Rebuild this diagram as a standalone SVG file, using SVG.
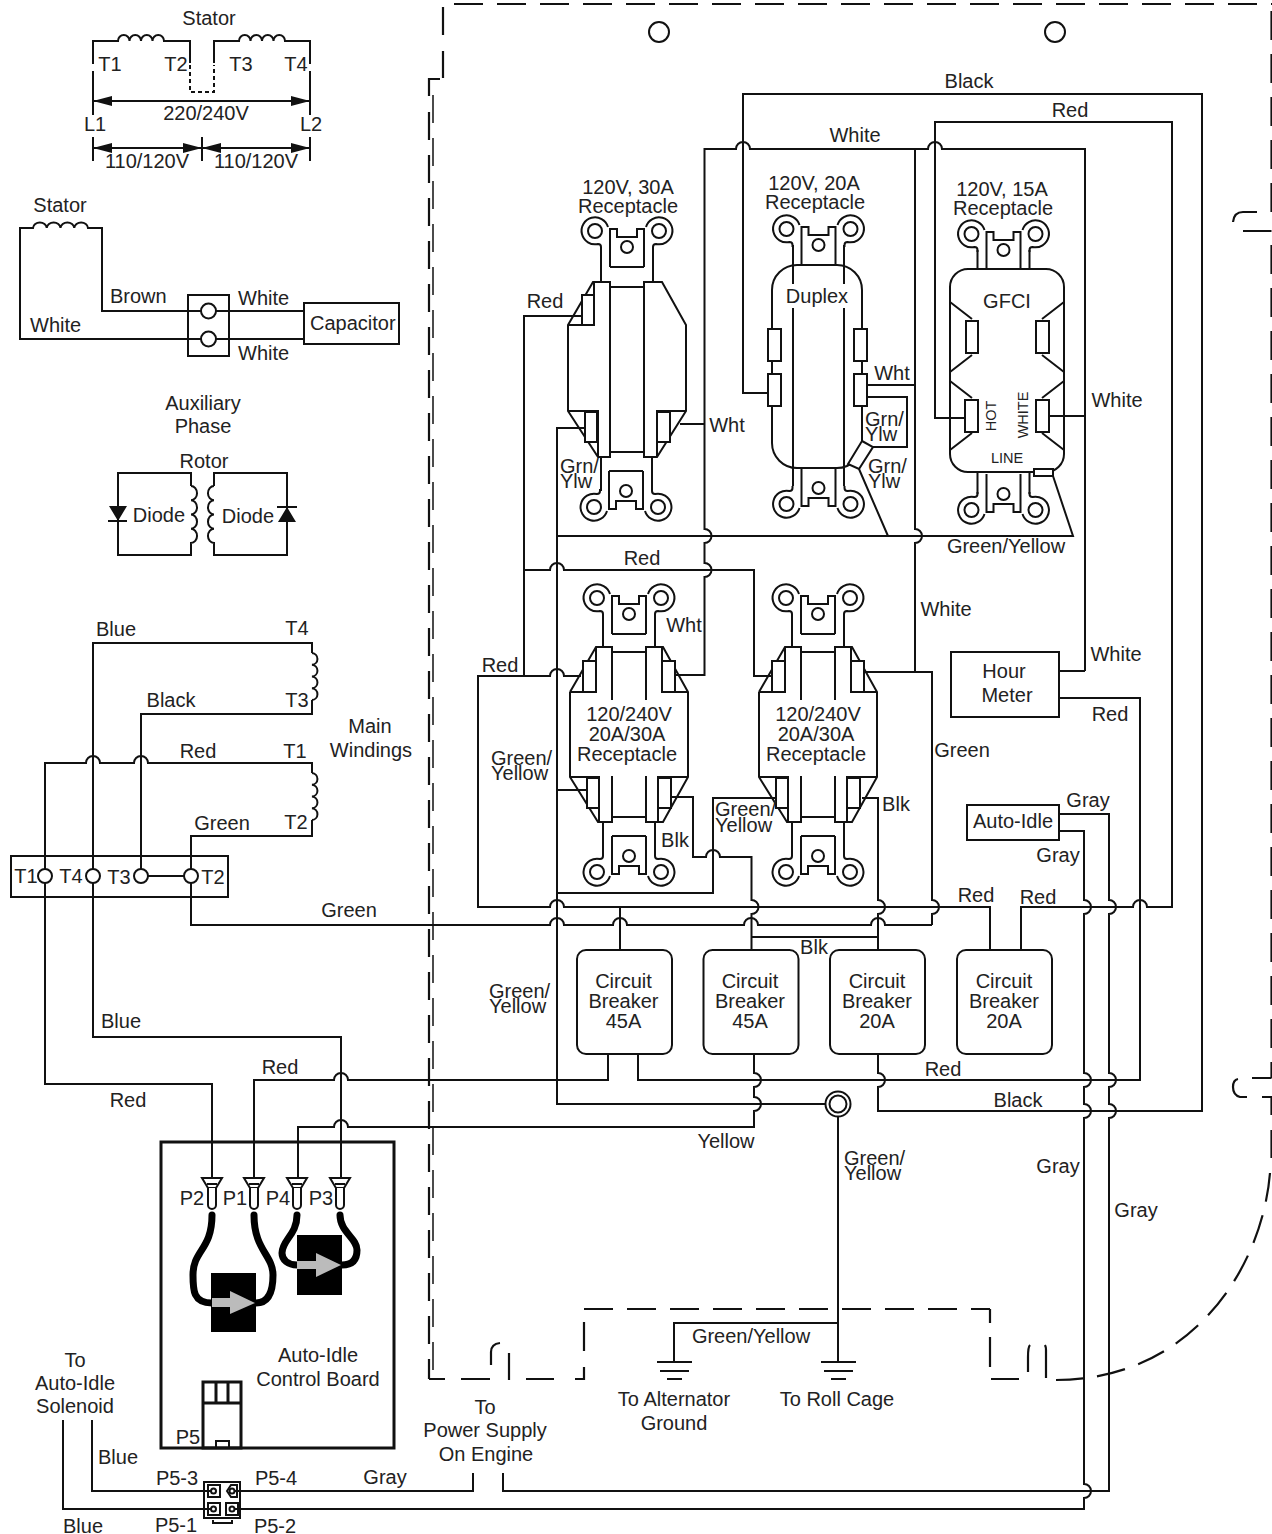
<svg xmlns="http://www.w3.org/2000/svg" xmlns:xlink="http://www.w3.org/1999/xlink" width="1272" height="1534" viewBox="0 0 1272 1534">
<style>
text{font-family:"Liberation Sans",Arial,sans-serif;font-size:20px;fill:#222}
.m{text-anchor:middle}
.s{font-size:14.5px}
.w{fill:none;stroke:#111;stroke-width:2;stroke-linejoin:miter}
.n{fill:none;stroke:#111;stroke-width:2}
.f{fill:#fff;stroke:#111;stroke-width:2}
.d{fill:none;stroke:#111;stroke-width:2.2}
.dd{stroke-dasharray:29 14}
.k{fill:#111;stroke:none}
.h{fill:none;stroke:#000;stroke-width:7;stroke-linecap:round}
.b{fill:#000}
.g{fill:#bbb}
</style>
<defs>
<g id="ear">
<circle class="n" cx="-32" cy="0" r="7"/><circle class="n" cx="32" cy="0" r="7"/>
<circle class="n" cx="0" cy="16" r="6"/>
<path class="n" d="M-17,36 V-2 H-10 V6 H10 V-2 H17 V36"/>
<path class="n" d="M-26,18 V16 Q-26,13 -29,13 A13.5,13.5 0 1 1 -19,-4"/>
<path class="n" d="M26,18 V16 Q26,13 29,13 A13.5,13.5 0 1 0 19,-4"/>
</g>
<g id="pin">
<path class="f" d="M-10,0 H10 L4,10 H-4Z"/>
<path class="f" d="M-4,10 V27 a4,4 0 0 0 8,0 V10"/>
<path class="n" d="M-5,6 H5"/>
</g>
<g id="recp">
<path class="n" d="M-59,44 L-33,-1 H-17 V52 M17,52 V-1 H34 L59,44 V129 L34,174 H17 V128 M-17,128 V174 H-31 L-59,129 V44 M-17,4 H17 M-17,169 H17 M-59,44 H-33 V-1 M33,-1 V44 H59 M-59,129 H-30 V174 M29,174 V129 H59"/>
<rect class="f" x="-46" y="13" width="13" height="31"/><rect class="f" x="33" y="13" width="13" height="31"/>
<rect class="f" x="-42" y="130" width="12" height="30"/><rect class="f" x="29" y="130" width="13" height="30"/>
</g>
<g id="breaker"><rect class="f" x="0" y="0" width="95" height="104" rx="9"/></g>
</defs>

<g id="enclosure">
<path class="d dd" d="M454,4 H1272"/>
<path class="d" d="M443,7 V35 M443,51 V78 M440,79 H429 V96"/>
<path class="d" stroke-dasharray="28 15" d="M429,112 V1379"/>
<path fill="none" stroke="#111" stroke-width="1.5" stroke-dasharray="28 15" d="M433,95 V1379"/>
<path class="d" d="M429,1379 H445 M461,1379 H490 M491,1365 V1352 Q491,1344 500,1343 M509,1353 V1380 M526,1379 H554 M575,1379 H584 V1367 M584,1351 V1322"/>
<path class="d dd" d="M584,1309 H990"/>
<path class="d" d="M990,1309 V1323 M990,1337 V1367 M991,1379 H1019 M1028,1372 V1357 Q1028,1347 1030,1345 M1046,1378 V1350 Q1046,1347 1045,1345"/>
<path class="d dd" d="M1271.5,212 V4"/>
<path class="d" d="M1257,212 H1243 Q1234,212 1233,222 M1243,231 H1271.5"/>
<path class="d dd" d="M1271.5,245 V1078"/>
<path class="d" d="M1252,1078 H1271.5 M1247,1097 H1240 Q1233,1095 1233,1087 Q1233,1080 1238,1079 M1262,1097 H1271.5 V1115 M1271.5,1130 V1158"/>
<path class="d dd" d="M1270,1173 C1262,1270 1190,1380 1056,1380"/>
<circle class="n" cx="659" cy="32" r="10"/><circle class="n" cx="1055" cy="32" r="10"/>
</g>

<g id="stator-top">
<text class="m" x="209" y="25">Stator</text>
<path class="n" d="M93,64 V41 H118 a5.75,6 0 0 1 11.5,0 a5.75,6 0 0 1 11.5,0 a5.75,6 0 0 1 11.5,0 a5.75,6 0 0 1 11.5,0 H190 V63"/>
<path class="n" d="M93,71 V115 M310,64 V41 H285 a5.75,6 0 0 0 -11.5,0 a5.75,6 0 0 0 -11.5,0 a5.75,6 0 0 0 -11.5,0 a5.75,6 0 0 0 -11.5,0 H214 V63 M310,71 V115"/>
<path class="n" stroke-dasharray="4 3" d="M190,65 V92 H214 V65"/>
<path class="n" d="M93,101 H310"/>
<path class="k" d="M93,101 L112,96 V106Z M310,101 L291,96 V106Z"/>
<path class="n" d="M93,137 V161 M202,137 V161 M310,137 V161 M93,148 H310"/>
<path class="k" d="M93,148 L112,143 V153Z M202,148 L183,143 V153Z M202,148 L221,143 V153Z M310,148 L291,143 V153Z"/>
<text class="m" x="110" y="71">T1</text><text class="m" x="176" y="71">T2</text><text class="m" x="241" y="71">T3</text><text class="m" x="296" y="71">T4</text>
<text class="m" x="206" y="120">220/240V</text><text class="m" x="95" y="131">L1</text><text class="m" x="311" y="131">L2</text>
<text class="m" x="147" y="168">110/120V</text><text class="m" x="256" y="168">110/120V</text>
</g>

<g id="stator-aux">
<text class="m" x="60" y="212">Stator</text>
<path class="n" d="M188,339 H20 V228 H33 a6.9,6 0 0 1 13.75,0 a6.9,6 0 0 1 13.75,0 a6.9,6 0 0 1 13.75,0 a6.9,6 0 0 1 13.75,0 H102 V311 H188"/>
<path class="n" d="M229,311 H304 M229,339 H304"/>
<rect class="n" x="188" y="295" width="41" height="61"/>
<circle class="f" cx="208.500" cy="311" r="7.500"/><circle class="f" cx="208.500" cy="339" r="7.500"/>
<path class="n" d="M188,311 H201 M216,311 H229 M188,339 H201 M216,339 H229"/>
<rect class="n" x="304" y="303" width="95" height="41"/>
<text x="110" y="303">Brown</text><text x="30" y="332">White</text><text x="238" y="305">White</text><text x="238" y="360">White</text><text x="310" y="330">Capacitor</text>
</g>

<g id="rotor">
<text class="m" x="203" y="410">Auxiliary</text><text class="m" x="203" y="433">Phase</text><text class="m" x="204" y="468">Rotor</text>
<path class="n" d="M191,486 V473 H118 V555 H191 V543 a6,7.1 0 0 0 0,-14.250 a6,7.1 0 0 0 0,-14.250 a6,7.1 0 0 0 0,-14.250 a6,7.1 0 0 0 0,-14.250"/>
<path class="n" d="M214,486 V473 H287 V555 H214 V543 a6,7.1 0 0 1 0,-14.250 a6,7.1 0 0 1 0,-14.250 a6,7.1 0 0 1 0,-14.250 a6,7.1 0 0 1 0,-14.250"/>
<path class="k" d="M109,506 H127 L118,521Z M278,522 H296 L287,507Z"/>
<path class="n" d="M108,521 H127 M277,507 H297"/>
<text class="m" x="159" y="522">Diode</text><text class="m" x="248" y="523">Diode</text>
</g>

<g id="connectors">
<path class="w" d="M312,653 V643 H93 V1037 H341 V1178"/>
<path class="w" d="M312,700 V714 H141 V876"/>
<path class="w" d="M212,1178 V1084 H45 V763 H86 a7,7 0 0 1 14,0 H134 a7,7 0 0 1 14,0 H312 V773"/>
<path class="w" d="M312,820 V836 H191 V876 M141,876 H191"/>
<path class="w" d="M191,876 V925 H550 a7,7 0 0 1 14,0 H613 a7,7 0 0 1 14,0 H744 a7,7 0 0 1 14,0 H871 a7,7 0 0 1 14,0 H932"/>
<path class="w" d="M878,1054 V1073 a7,7 0 0 1 0,14 V1111 H1202 V94 H743 V393 H768"/>
<path class="w" d="M1021,950 V907 H1133 a7,7 0 0 1 14,0 H1172 V122 H935 V418 H965"/>
<path class="w" d="M1085,671 V149 H942 a7,7 0 0 0 -14,0 H750 a7,7 0 0 0 -14,0 H704.500 V529 a7,7 0 0 1 0,14 V563 a7,7 0 0 1 0,14 V675 H676"/>
<path class="w" d="M680,424 H704.500 M867,385 H915 M1049,416 H1085 M1059,671 H1085"/>
<path class="w" d="M915,149 V529 a7,7 0 0 1 0,14 V672"/>
<path class="w" d="M865,672 H932 V900 a7,7 0 0 1 0,14 V925"/>
<path class="w" d="M557,536 H1073 L1053,476 M859,469 L888,536"/>
<path class="w" d="M585,428 H557 V1104 H826"/>
<path class="w" d="M557,790 H587 M557,893 H713 V798 H776"/>
<path class="w" d="M582,316 H524 V676 M524,570 H550 a7,7 0 0 1 14,0 H754 V676 H772"/>
<path class="w" d="M581,676 H564 a7,7 0 0 0 -14,0 H478 V907 H550 a7,7 0 0 1 14,0 H990 V950 M620,907 V950"/>
<path class="w" d="M672,797 H693 V857 H706 a7,7 0 0 1 14,0 H751.500 V900 a7,7 0 0 1 0,14 V950 M751.500,937 H878 M862,798 H878 V900 a7,7 0 0 1 0,14 V950"/>
<path class="w" d="M608,1054 V1080 H348 a7,7 0 0 0 -14,0 H254 V1178"/>
<path class="w" d="M638,1054 V1080 H1140 V698 H1059"/>
<path class="w" d="M754,1054 V1073 a7,7 0 0 1 0,14 V1097 a7,7 0 0 1 0,14 V1127 H348 a7,7 0 0 0 -14,0 H298 V1178"/>
<path class="w" d="M1059,831 H1084 V900 a7,7 0 0 1 0,14 V1073 a7,7 0 0 1 0,14 V1104 a7,7 0 0 1 0,14 V1484 a7,7 0 0 1 0,14 V1509 H63 V1420"/>
<path class="w" d="M1059,814 H1109 V900 a7,7 0 0 1 0,14 V1073 a7,7 0 0 1 0,14 V1104 a7,7 0 0 1 0,14 V1491 H503 V1473"/>
<path class="w" d="M473,1473 V1491 H92 V1420"/>
<path class="w" d="M838,1117 V1362 M838,1323 H674 V1362"/>
</g>

<g id="main-windings">
<path class="n" d="M312,653 a6,5.9 0 0 1 0,11.750 a6,5.9 0 0 1 0,11.750 a6,5.9 0 0 1 0,11.750 a6,5.9 0 0 1 0,11.750"/>
<path class="n" d="M312,773 a6,5.9 0 0 1 0,11.750 a6,5.9 0 0 1 0,11.750 a6,5.9 0 0 1 0,11.750 a6,5.9 0 0 1 0,11.750"/>
<rect class="n" x="11" y="856" width="217" height="41"/>
<circle class="f" cx="45" cy="876" r="7"/><circle class="f" cx="93" cy="876" r="7"/><circle class="f" cx="141" cy="876" r="7"/><circle class="f" cx="191" cy="876" r="7"/>
<text class="m" x="116" y="636">Blue</text><text class="m" x="297" y="635">T4</text><text class="m" x="171" y="707">Black</text><text class="m" x="297" y="707">T3</text>
<text class="m" x="198" y="758">Red</text><text class="m" x="295" y="758">T1</text><text class="m" x="222" y="830">Green</text><text class="m" x="296" y="829">T2</text>
<text class="m" x="370" y="733">Main</text><text class="m" x="371" y="757">Windings</text>
<text class="m" x="26" y="883">T1</text><text class="m" x="71" y="883">T4</text><text class="m" x="119" y="884">T3</text><text class="m" x="213" y="884">T2</text>
<text class="m" x="349" y="917">Green</text>
</g>

<g id="receptacle-30a">
<use href="#ear" transform="translate(627,231)"/>
<use href="#ear" transform="translate(626,507) scale(1,-1)"/>
<path class="n" d="M601,247 V281 M653,247 V281 M601,457 V491 M652,457 V491 M610,267 H644 M609,471 H643"/>
<path class="n" d="M568,325 L593,282 H610 V457 H598 L568,411 Z M644,281 V457 H657 L686,411 V325 L662,282 H644 M610,287 H644 M610,452 H644 M568,411 H598 V457 M657,457 V411 H686 M568,325 H594 V282"/>
<rect class="f" x="582" y="295" width="12" height="30"/>
<rect class="f" x="585" y="412" width="12" height="30"/><rect class="f" x="657" y="412" width="13" height="30"/>
<text class="m" x="628" y="194">120V, 30A</text><text class="m" x="628" y="213">Receptacle</text>
</g>

<g id="receptacle-duplex">
<use href="#ear" transform="translate(818.500,229)"/>
<use href="#ear" transform="translate(818.500,504) scale(1,-1)"/>
<path class="n" d="M793,245 V284 M793,308 V486 M844,245 V284 M844,308 V486"/>
<rect class="n" x="772" y="265" width="90" height="203" rx="25"/>
<rect class="f" x="768" y="329" width="13" height="32"/><rect class="f" x="768" y="374" width="13" height="32"/>
<rect class="f" x="854" y="329" width="13" height="32"/><rect class="f" x="854" y="374" width="13" height="32"/>
<path class="f" d="M862,441 L873,447 L859,469 L848,464Z"/>
<path class="n" d="M867,397 H907 V447 H873"/>
<text class="m" x="814" y="190">120V, 20A</text><text class="m" x="815" y="209">Receptacle</text><text class="m" x="817" y="303">Duplex</text>
</g>

<g id="receptacle-gfci">
<use href="#ear" transform="translate(1003.500,234)"/>
<use href="#ear" transform="translate(1003.500,510) scale(1,-1)"/>
<path class="n" d="M977.500,250 V269 M1029.500,250 V269 M977.500,472 V494 M1029.500,472 V494"/>
<rect class="n" x="950" y="269" width="114" height="203" rx="18"/>
<path class="n" d="M950,302 L972,319 M972,355 L950,372 M950,381 L972,398 M972,433 L950,450 M1064,302 L1042,319 M1042,355 L1064,372 M1064,381 L1042,398 M1042,433 L1064,450"/>
<rect class="f" x="966" y="321" width="12" height="32"/><rect class="f" x="1036" y="321" width="13" height="32"/>
<rect class="f" x="965" y="400" width="13" height="32"/><rect class="f" x="1036" y="400" width="13" height="32"/>
<rect class="f" x="1034" y="469" width="19" height="7"/>
<text class="m" x="1002" y="196">120V, 15A</text><text class="m" x="1003" y="215">Receptacle</text><text class="m" x="1007" y="308">GFCI</text>
<text class="m s" transform="translate(996,416) rotate(-90)">HOT</text><text class="m s" transform="translate(1028,415) rotate(-90)">WHITE</text><text class="m s" x="1007" y="463">LINE</text>
</g>

<g id="receptacle-120-240-a">
<use href="#ear" transform="translate(629,598)"/>
<use href="#ear" transform="translate(629,872) scale(1,-1)"/>
<path class="n" d="M603,614 V647 M655,614 V647 M603,822 V856 M655,822 V856 M612,634 H646 M612,836 H646"/>
<use href="#recp" transform="translate(629,648)"/>
<text class="m" x="629" y="721">120/240V</text><text class="m" x="627" y="741">20A/30A</text><text class="m" x="627" y="761">Receptacle</text>
</g>
<g id="receptacle-120-240-b">
<use href="#ear" transform="translate(818,598)"/>
<use href="#ear" transform="translate(818,872) scale(1,-1)"/>
<path class="n" d="M792,614 V647 M844,614 V647 M792,822 V856 M844,822 V856 M801,634 H835 M801,836 H835"/>
<use href="#recp" transform="translate(818,648)"/>
<text class="m" x="818" y="721">120/240V</text><text class="m" x="816" y="741">20A/30A</text><text class="m" x="816" y="761">Receptacle</text>
</g>

<g id="hour-meter"><rect class="n" x="951" y="652" width="108" height="65"/><text class="m" x="1004" y="678">Hour</text><text class="m" x="1007" y="702">Meter</text></g>
<g id="auto-idle"><rect class="n" x="967" y="805" width="92" height="35"/><text class="m" x="1013" y="828">Auto-Idle</text></g>

<g id="breaker-1"><use href="#breaker" x="577" y="950"/><text class="m" x="623.500" y="988">Circuit</text><text class="m" x="623.500" y="1008">Breaker</text><text class="m" x="623.500" y="1028">45A</text></g>
<g id="breaker-2"><use href="#breaker" x="703.500" y="950"/><text class="m" x="750" y="988">Circuit</text><text class="m" x="750" y="1008">Breaker</text><text class="m" x="750" y="1028">45A</text></g>
<g id="breaker-3"><use href="#breaker" x="830" y="950"/><text class="m" x="877" y="988">Circuit</text><text class="m" x="877" y="1008">Breaker</text><text class="m" x="877" y="1028">20A</text></g>
<g id="breaker-4"><use href="#breaker" x="957" y="950"/><text class="m" x="1004" y="988">Circuit</text><text class="m" x="1004" y="1008">Breaker</text><text class="m" x="1004" y="1028">20A</text></g>

<g id="ground-lug"><circle class="f" cx="838" cy="1104" r="12.500"/><circle class="n" cx="838" cy="1104" r="8.500"/></g>
<g id="ground-alternator">
<path class="d" stroke-width="2.500" d="M657,1362 H692 M660,1371 H689 M667,1379 H682"/>
<text class="m" x="674" y="1406">To Alternator</text><text class="m" x="674" y="1430">Ground</text>
</g>
<g id="ground-rollcage">
<path class="d" stroke-width="2.500" d="M821,1362 H856 M824,1371 H853 M831,1379 H846"/>
<text class="m" x="837" y="1406">To Roll Cage</text>
</g>

<g id="control-board">
<rect fill="none" stroke="#111" stroke-width="3" x="161" y="1142" width="233" height="306"/>
<use href="#pin" x="212" y="1178"/><use href="#pin" x="254" y="1178"/><use href="#pin" x="297" y="1178"/><use href="#pin" x="340" y="1178"/>
<rect class="b" x="211" y="1273" width="45" height="59"/><rect class="b" x="297" y="1235" width="45" height="60"/>
<path class="h" d="M212,1215 C212,1250 193,1250 193,1275 C193,1290 193,1303 212,1303"/>
<path class="h" d="M254,1215 C254,1250 273,1255 273,1275 C273,1293 268,1303 256,1303"/>
<path class="h" d="M297,1215 C297,1235 282,1240 282,1253 C282,1260 288,1265 297,1265"/>
<path class="h" d="M340,1215 C340,1232 357,1238 357,1250 C357,1260 352,1265 342,1265"/>
<path class="g" d="M212,1298 H230 V1291 L255,1303 L230,1314 V1307 H212Z M297,1261 H316 V1253 L341,1265 L316,1277 V1269 H297Z"/>
<rect fill="none" stroke="#111" stroke-width="3" x="203" y="1382" width="38" height="66"/>
<path fill="none" stroke="#111" stroke-width="3" d="M203,1403 H241 M216,1382 V1403 M228,1382 V1403"/>
<rect class="n" x="216" y="1441" width="13" height="7"/>
<text class="m" x="192" y="1205">P2</text><text class="m" x="235" y="1205">P1</text><text class="m" x="278" y="1205">P4</text><text class="m" x="321" y="1205">P3</text><text class="m" x="188" y="1444">P5</text>
<text class="m" x="318" y="1362">Auto-Idle</text><text class="m" x="318" y="1386">Control Board</text>
</g>

<g id="plug-p5">
<rect class="f" stroke-width="3.500" x="204" y="1482" width="36" height="36"/>
<rect class="f" x="208" y="1485" width="12" height="12"/><path class="f" d="M227,1491 L231,1485 H237 V1497 H231Z"/>
<rect class="f" x="208" y="1503" width="12" height="12"/><rect class="f" x="226" y="1503" width="12" height="12"/>
<circle class="n" cx="213.500" cy="1491" r="2.500"/><circle class="n" cx="232" cy="1491" r="2.500"/><circle class="n" cx="213.500" cy="1509" r="2.500"/><circle class="n" cx="232" cy="1509" r="2.500"/>
<path class="n" d="M92,1491 H212 M234,1491 H473 M63,1509 H212 M234,1509 H240"/>
<path class="n" d="M213,1520 V1523 H232 V1520"/>
<text class="m" x="177" y="1485">P5-3</text><text class="m" x="276" y="1485">P5-4</text><text class="m" x="176" y="1532">P5-1</text><text class="m" x="275" y="1533">P5-2</text>
</g>

<g id="labels">
<text class="m" x="969" y="88">Black</text><text class="m" x="1070" y="117">Red</text><text class="m" x="855" y="142">White</text>
<text class="m" x="545" y="308">Red</text><text class="m" x="727" y="432">Wht</text><text class="m" x="892" y="380">Wht</text>
<text x="865" y="426">Grn/</text><text x="865" y="441">Ylw</text><text x="868" y="473">Grn/</text><text x="868" y="488">Ylw</text><text x="560" y="473">Grn/</text><text x="560" y="488">Ylw</text>
<text class="m" x="1006" y="553">Green/Yellow</text><text class="m" x="1117" y="407">White</text><text class="m" x="946" y="616">White</text><text class="m" x="1116" y="661">White</text><text class="m" x="1110" y="721">Red</text><text class="m" x="962" y="757">Green</text>
<text class="m" x="896" y="811">Blk</text><text class="m" x="675" y="847">Blk</text><text class="m" x="684" y="632">Wht</text><text class="m" x="642" y="565">Red</text><text class="m" x="500" y="672">Red</text>
<text x="491" y="765">Green/</text><text x="491" y="780">Yellow</text><text x="715" y="816">Green/</text><text x="715" y="832">Yellow</text><text x="489" y="998">Green/</text><text x="489" y="1013">Yellow</text><text x="844" y="1165">Green/</text><text x="844" y="1180">Yellow</text>
<text class="m" x="976" y="902">Red</text><text class="m" x="1038" y="904">Red</text><text class="m" x="1088" y="807">Gray</text><text class="m" x="1058" y="862">Gray</text><text class="m" x="814" y="954">Blk</text>
<text class="m" x="943" y="1076">Red</text><text class="m" x="1018" y="1107">Black</text><text class="m" x="726" y="1148">Yellow</text><text class="m" x="1058" y="1173">Gray</text><text class="m" x="1136" y="1217">Gray</text>
<text class="m" x="280" y="1074">Red</text><text class="m" x="128" y="1107">Red</text><text class="m" x="121" y="1028">Blue</text><text class="m" x="751" y="1343">Green/Yellow</text>
<text class="m" x="75" y="1367">To</text><text class="m" x="75" y="1390">Auto-Idle</text><text class="m" x="75" y="1413">Solenoid</text>
<text class="m" x="485" y="1414">To</text><text class="m" x="485" y="1437">Power Supply</text><text class="m" x="486" y="1461">On Engine</text>
<text class="m" x="118" y="1464">Blue</text><text class="m" x="83" y="1533">Blue</text><text class="m" x="385" y="1484">Gray</text>
</g>
</svg>
